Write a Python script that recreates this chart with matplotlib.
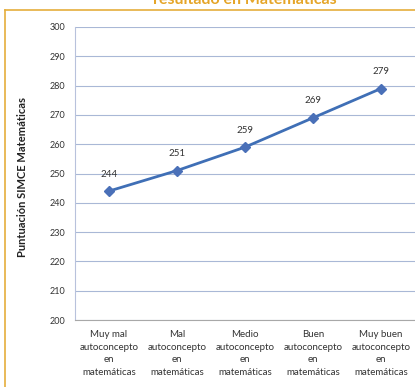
import matplotlib
matplotlib.use("Agg")
import matplotlib.pyplot as plt

categories = [
    "Muy mal\nautoconcepto\nen\nmatemáticas",
    "Mal\nautoconcepto\nen\nmatemáticas",
    "Medio\nautoconcepto\nen\nmatemáticas",
    "Buen\nautoconcepto\nen\nmatemáticas",
    "Muy buen\nautoconcepto\nen\nmatemáticas",
]
scores = [244, 251, 259, 269, 279]
y_ticks = list(range(200, 301, 10))

plt.rcParams["font.family"] = ["Lato", "DejaVu Sans"]

fig = plt.figure(figsize=(4.15, 3.87), dpi=100)
fig.patch.set_facecolor("white")

# golden frame around the chart (only top and left edges visible)
frame_color = "#E5AE3C"
fig.add_artist(plt.Line2D([5 / 415, 1.0], [1 - 10 / 387, 1 - 10 / 387],
                          transform=fig.transFigure, color=frame_color, lw=1.2))
fig.add_artist(plt.Line2D([5 / 415, 5 / 415], [0.0, 1 - 10 / 387],
                          transform=fig.transFigure, color=frame_color, lw=1.2))

# title, partly cut off at the top edge
fig.text(245 / 415, 1.0, "resultado en Matemáticas", ha="center", va="center",
         fontsize=11.5, fontweight="bold", color="#E5A528")

ax = fig.add_axes([75 / 415, 1 - 320 / 387, 1 - 75 / 415, (320 - 27) / 387])
x = list(range(len(categories)))
ax.plot(x, scores, color="#3F6FB6", lw=2.0, marker="D", markersize=5.5,
        markerfacecolor="#4A70B8", markeredgecolor="#4A70B8", zorder=3)
for xi, v in zip(x, scores):
    ax.annotate(str(v), (xi, v), xytext=(0, 9), textcoords="offset points",
                ha="center", va="bottom", fontsize=7, color="#333333")

ax.set_xlim(-0.5, len(categories) - 0.5)
ax.set_ylim(200, 300)
ax.set_yticks(y_ticks)
ax.set_xticks(x)
ax.set_xticklabels(categories, fontsize=7, color="#333333", linespacing=1.55)
ax.tick_params(axis="y", labelsize=6.5, colors="#333333", length=0, pad=7)
ax.tick_params(axis="x", length=0, pad=7)
ax.grid(axis="y", color="#A9B8D6", lw=0.8)
ax.set_axisbelow(True)
for side in ["top", "right"]:
    ax.spines[side].set_visible(False)
ax.spines["left"].set_color("#B8C2DC")
ax.spines["bottom"].set_color("#A8A8A8")

fig.text(23 / 415, 1 - 177 / 387, "Puntuación SIMCE Matemáticas", rotation=90,
         ha="center", va="center", fontsize=8, fontweight="bold", color="#222222")

fig.savefig("out.png", dpi=100, facecolor="white")
